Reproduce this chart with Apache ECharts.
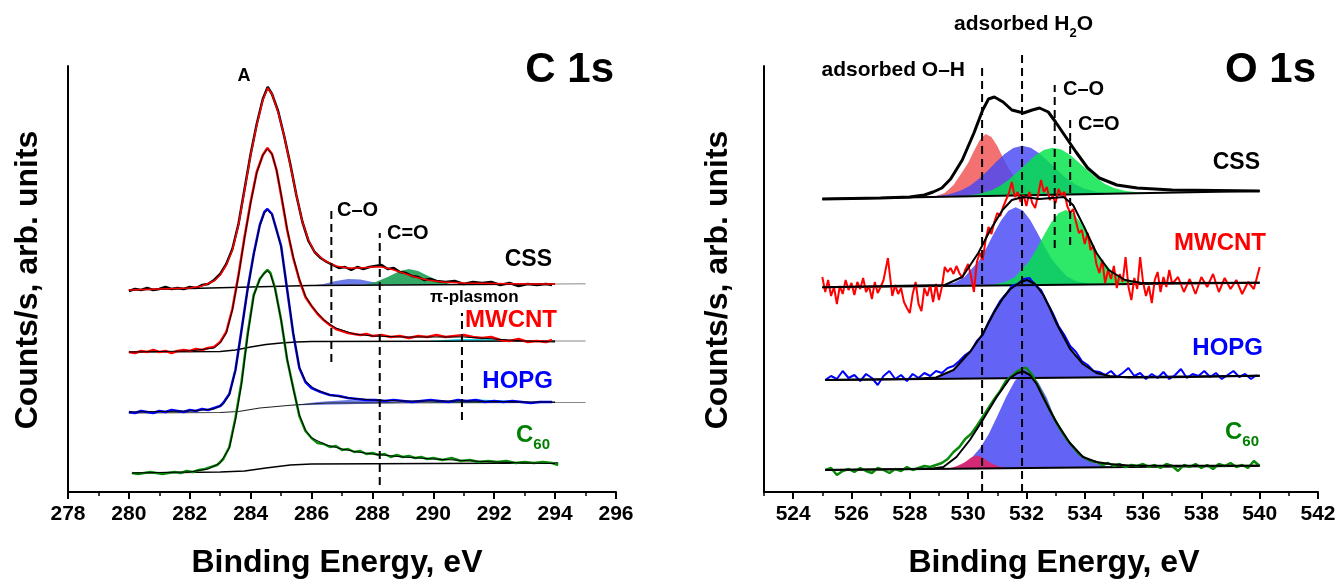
<!DOCTYPE html>
<html>
<head>
<meta charset="utf-8">
<script src="https://cdn.jsdelivr.net/npm/echarts@6/dist/echarts.min.js"></script>
<style>
  html, body { margin: 0; padding: 0; background: #fff; }
  #main { width: 1336px; height: 579px; }
</style>
</head>
<body>
<div id="main"></div>
<script>
// ---------- C 1s (left panel), counts in arb. units ----------
const c1sCssData = [[280.0,201],[280.2,203],[280.4,202],[280.6,204],[280.8,202],[281.0,203],[281.2,205],[281.4,203],[281.6,204],[281.8,203],[282.0,205],[282.2,204],[282.4,207],[282.6,208],[282.8,212],[283.0,218],[283.2,228],[283.4,243],[283.6,268],[283.8,303],[284.0,338],[284.2,368],[284.4,393],[284.56,405],[284.7,398],[284.9,381],[285.1,356],[285.3,328],[285.5,297],[285.7,270],[285.9,251],[286.1,240],[286.3,234],[286.5,230],[286.7,227],[286.9,224],[287.1,225],[287.3,222],[287.5,225],[287.7,223],[287.9,225],[288.1,226],[288.3,227],[288.5,223],[288.7,224],[288.9,220],[289.1,219],[289.3,216],[289.5,215],[289.7,212],[289.9,213],[290.1,211],[290.4,210],[290.7,211],[291.0,208],[291.3,210],[291.6,209],[291.9,210],[292.2,207],[292.5,209],[292.8,206],[293.1,208],[293.4,207],[293.7,208],[293.9,207]];
const c1sCssFit = [[280.0,202],[281,203],[282,204],[282.4,206],[282.8,211],[283.0,217],[283.2,227],[283.4,242],[283.6,267],[283.8,302],[284.0,337],[284.2,367],[284.4,392],[284.56,404],[284.7,398],[284.9,380],[285.1,356],[285.3,327],[285.5,297],[285.7,270],[285.9,252],[286.1,240],[286.4,232],[286.8,226],[287.2,224],[287.6,224],[288.0,225],[288.3,225],[288.6,223],[289.0,219],[289.4,215],[289.8,212],[290.3,210],[291.0,209],[292.0,208.5],[293.0,208],[294.0,208]];
const c1sCssBase = [[280,202],[286,206.5],[294,208]];
const c1sCssBaseExt = [[294,208],[295,208.2]];
const c1sCssBlue = [[286.0,206.5],[286.4,208],[286.8,211],[287.2,213],[287.6,212.5],[288.0,210],[288.4,207.5]];
const c1sCssGreen = [[287.7,207.2],[288.1,210],[288.5,215],[288.9,221],[289.2,223],[289.5,221],[289.9,215],[290.2,211],[290.6,207.8]];

const c1sMwcntData = [[280.0,140],[280.2,139],[280.4,141],[280.6,140],[280.8,142],[281.0,140],[281.2,141],[281.4,139],[281.6,141],[281.8,142],[282.0,141],[282.2,143],[282.4,142],[282.6,144],[282.8,145],[283.0,150],[283.2,160],[283.4,183],[283.6,217],[283.8,255],[284.0,290],[284.2,320],[284.4,337],[284.55,344],[284.7,338],[284.85,322],[285.0,297],[285.2,262],[285.4,234],[285.6,212],[285.8,195],[286.0,186],[286.2,178],[286.4,172],[286.6,167],[286.8,163],[287.0,161],[287.2,159],[287.4,158],[287.6,157],[287.8,158],[288.0,156],[288.3,157],[288.6,155],[288.9,156],[289.2,154],[289.5,156],[289.8,155],[290.1,157],[290.4,155],[290.7,156],[291.0,157],[291.3,155],[291.6,154],[291.9,155],[292.2,152],[292.5,151],[292.8,153],[293.1,150],[293.4,151],[293.7,150],[293.9,152]];
const c1sMwcntFit = [[280,140],[282,141],[282.8,144],[283.0,149],[283.2,159],[283.4,182],[283.6,216],[283.8,254],[284.0,289],[284.2,319],[284.4,337],[284.55,343],[284.7,338],[284.85,322],[285.0,298],[285.2,263],[285.4,235],[285.6,213],[285.8,196],[286.0,186],[286.4,172],[286.8,164],[287.4,158],[288,156],[289,155],[290,155],[291,155],[292,153],[293,151],[294,150]];
const c1sMwcntBase = [[280,140],[283,140.5],[283.5,142],[284,145],[284.5,147.5],[285,149],[285.5,150],[286,150.5],[294,151]];
const c1sMwcntBaseExt = [[294,151],[295,151]];
const c1sMwcntCyan = [[289.8,151],[290.8,153],[291.8,153],[292.6,151.2]];

const c1sHopgData = [[280.0,80],[280.2,79],[280.4,81],[280.6,80],[280.8,79],[281.0,81],[281.2,80],[281.4,82],[281.6,81],[281.8,80],[282.0,82],[282.2,81],[282.4,83],[282.6,82],[282.8,84],[283.0,86],[283.1,89],[283.3,98],[283.5,122],[283.7,162],[283.9,203],[284.1,238],[284.3,267],[284.45,280],[284.55,283],[284.7,278],[284.85,262],[285.0,246],[285.2,202],[285.4,158],[285.6,124],[285.8,110],[286.0,104],[286.3,100],[286.6,97],[286.9,96],[287.2,94],[287.5,93],[287.8,92],[288.1,92],[288.4,91],[288.7,92],[289.0,91],[289.3,90],[289.6,91],[289.9,92],[290.2,91],[290.5,90],[290.8,92],[291.1,91],[291.4,92],[291.7,90],[292.0,91],[292.3,90],[292.6,91],[292.9,90],[293.2,89],[293.5,90],[293.9,90]];
const c1sHopgFit = [[280,80],[282,81],[282.8,83],[283.1,88],[283.3,97],[283.5,121],[283.7,161],[283.9,202],[284.1,237],[284.3,266],[284.45,279],[284.55,282],[284.7,277],[284.85,262],[285.0,245],[285.2,203],[285.4,159],[285.6,125],[285.8,111],[286.1,103],[286.6,97],[287.2,94],[288,92],[289,91],[290,91],[291,91],[292,90.5],[293,90],[294,90]];
const c1sHopgBase = [[280,79],[283,79.5],[283.6,80.5],[284.3,84],[285.4,87],[286.5,89],[294,89.5]];
const c1sHopgBaseExt = [[294,89.5],[295,89.5]];
const c1sHopgBlue = [[285.3,86.5],[286.2,90],[287.2,92],[288.2,91],[289.0,89]];
const c1sHopgCyan = [[289.8,89.3],[290.6,91.5],[291.5,92.5],[292.4,91.5],[293.2,89.5]];

const c1sC60Data = [[280.1,19],[280.3,18],[280.5,19],[280.7,20],[280.9,19],[281.1,18],[281.3,19],[281.5,20],[281.7,19],[281.9,21],[282.1,20],[282.3,22],[282.5,23],[282.7,25],[282.9,27],[283.1,33],[283.3,45],[283.5,74],[283.7,110],[283.9,158],[284.1,197],[284.3,213],[284.45,219],[284.55,222],[284.65,219],[284.8,204],[285.0,172],[285.2,132],[285.4,104],[285.6,76],[285.8,61],[286.0,54],[286.2,49],[286.4,48],[286.6,45],[286.8,46],[287.0,42],[287.2,43],[287.4,40],[287.6,41],[287.8,38],[288.0,39],[288.2,37],[288.4,38],[288.6,35],[288.8,37],[289.0,35],[289.2,36],[289.4,34],[289.6,35],[289.8,33],[290.0,34],[290.3,32],[290.6,34],[290.9,31],[291.2,32],[291.5,30],[291.8,31],[292.1,30],[292.4,31],[292.7,29],[293.0,30],[293.3,29],[293.6,30],[293.9,29],[294.1,27]];
const c1sC60Fit = [[280.1,19],[282,20],[282.6,23],[283.0,29],[283.3,44],[283.5,72],[283.7,108],[283.9,156],[284.1,196],[284.3,213],[284.45,219],[284.55,221],[284.65,218],[284.8,203],[285.0,172],[285.2,133],[285.4,103],[285.6,77],[285.8,62],[286.0,54],[286.5,47],[287,43],[287.5,40],[288,38],[289,35],[290,33],[291,31.5],[292,30],[293,29],[294,28.5]];
const c1sC60Base = [[280.1,19],[283,20],[283.8,21],[284.5,24],[285.3,27],[286,28],[294.1,29]];

// dashed reference lines (energy, from count, to count)
const c1sDashCO = [[286.65,130],[286.65,285]];
const c1sDashCdO = [[288.24,7],[288.24,259]];
const c1sDashPlasmon = [[290.94,72],[290.94,179]];

// ---------- O 1s (right panel) ----------
const o1sCssEnv = [[525,293],[526,293.5],[527,294],[528,295],[528.5,297],[528.8,300],[529.1,304],[529.4,313],[529.8,332],[530.2,359],[530.5,382],[530.7,393],[530.9,395],[531.2,390],[531.5,382],[531.9,379],[532.2,382],[532.45,384],[532.75,380],[533.0,370],[533.35,355],[533.7,340],[534.1,324],[534.5,314],[535.1,307],[535.8,304],[537,302],[538.5,301.5],[540,301]];
const o1sCssBase = [[525,293],[540,301]];
const o1sCssRed = [[528.8,295],[529.2,299],[529.5,307],[529.8,320],[530.0,329],[530.2,341],[530.4,352],[530.6,358],[530.8,355],[531.0,346],[531.2,334],[531.4,323],[531.6,315],[531.9,306],[532.2,301],[532.6,297]];
const o1sCssBlue = [[528.5,294.9],[528.85,295.7],[529.35,297.8],[529.75,301.4],[530.05,306.1],[530.35,312.7],[530.65,320.8],[530.95,329.7],[531.25,337.9],[531.55,343.9],[531.85,346.2],[532.15,344.2],[532.45,338.6],[532.75,330.6],[533.05,322.1],[533.35,314.3],[533.65,308.0],[533.95,303.7],[534.35,300.5],[534.85,298.8],[535.3,298.5]];
const o1sCssGreen = [[529.6,295.5],[529.9,296.2],[530.4,298.3],[530.8,301.7],[531.1,306.2],[531.4,312.4],[531.7,320.2],[532.0,328.5],[532.3,336.4],[532.6,342.1],[532.9,344.2],[533.2,342.4],[533.5,337.0],[533.8,329.5],[534.1,321.5],[534.4,314.0],[534.7,308.1],[535.0,303.9],[535.4,300.9],[535.9,299.4],[536.3,299.0]];

const o1sMwcntData = [[525.0,215],[525.1,200],[525.2,212],[525.3,196],[525.4,205],[525.5,188],[525.6,206],[525.7,198],[525.8,212],[525.9,202],[526.0,209],[526.1,197],[526.2,210],[526.3,203],[526.4,214],[526.5,200],[526.6,206],[526.7,193],[526.8,210],[526.9,199],[527.0,205],[527.1,212],[527.25,234],[527.4,196],[527.5,207],[527.6,198],[527.7,204],[527.8,190],[527.9,184],[528.0,179],[528.1,198],[528.2,210],[528.3,188],[528.4,181],[528.5,204],[528.6,196],[528.7,207],[528.8,190],[528.9,208],[529.0,192],[529.1,205],[529.2,225],[529.3,220],[529.4,224],[529.5,218],[529.6,226],[529.7,219],[529.8,214],[529.9,222],[530.0,228],[530.1,216],[530.2,200],[530.3,230],[530.4,239],[530.5,232],[530.6,252],[530.7,265],[530.8,258],[530.9,270],[531.0,279],[531.1,276],[531.2,285],[531.3,292],[531.4,299],[531.5,310],[531.6,295],[531.7,300],[531.8,290],[531.9,297],[532.0,286],[532.1,300],[532.2,289],[532.3,284],[532.4,297],[532.5,312],[532.6,300],[532.7,305],[532.8,292],[532.9,296],[533.0,289],[533.1,303],[533.2,297],[533.3,300],[533.4,286],[533.5,279],[533.6,283],[533.7,270],[533.8,259],[533.9,262],[534.0,248],[534.1,259],[534.2,242],[534.3,246],[534.4,228],[534.5,219],[534.6,232],[534.7,209],[534.8,222],[534.9,213],[535.0,226],[535.1,204],[535.2,218],[535.3,210],[535.4,235],[535.5,205],[535.6,192],[535.7,214],[535.8,203],[535.9,235],[536.0,210],[536.1,196],[536.2,206],[536.3,189],[536.4,212],[536.5,220],[536.6,200],[536.7,215],[536.8,205],[536.9,222],[537.0,208],[537.2,215],[537.4,200],[537.6,213],[537.8,198],[538.0,215],[538.2,205],[538.4,218],[538.6,200],[538.8,214],[539.0,203],[539.2,212],[539.4,198],[539.6,210],[539.8,203],[540.0,225]];
const o1sMwcntEnv = [[525,204.7],[529.2,207],[529.8,215],[530.35,239],[530.76,262],[531.18,282],[531.5,292],[531.88,295],[532.2,294],[532.44,293],[532.86,294],[533.28,295],[533.6,287],[533.98,265],[534.4,239],[534.82,222],[535.38,212],[535.94,209],[540,209.3]];
const o1sMwcntBase = [[525,204.7],[540,209.3]];
const o1sMwcntBlue = [[528.8,205.9],[529.13,206.9],[529.53,209.3],[529.88,215.0],[530.13,223.4],[530.38,231.4],[530.63,244.3],[530.88,258.4],[531.13,271.6],[531.38,281.3],[531.63,284.7],[531.88,281.4],[532.13,271.9],[532.38,258.9],[532.63,244.9],[532.88,232.2],[533.13,223.7],[533.38,215.8],[533.73,210.6],[534.13,208.4],[534.5,207.6]];
const o1sMwcntGreen = [[530.5,206.4],[530.85,207.4],[531.25,209.7],[531.6,214.8],[531.85,222.9],[532.1,231.1],[532.35,243.2],[532.6,256.7],[532.85,269.4],[533.1,278.7],[533.35,282.0],[533.6,278.8],[533.85,269.7],[534.1,257.5],[534.35,243.8],[534.6,231.7],[534.85,223.5],[535.1,216.0],[535.45,211.0],[535.85,208.9],[536.2,208.1]];

const o1sHopgData = [[525.1,112],[525.3,116],[525.5,113],[525.7,121],[525.9,114],[526.1,117],[526.3,111],[526.5,118],[526.7,114],[526.9,107],[527.1,116],[527.3,121],[527.5,113],[527.7,117],[527.9,111],[528.1,118],[528.3,114],[528.5,119],[528.7,116],[528.9,121],[529.1,119],[529.3,124],[529.5,126],[529.7,131],[529.9,137],[530.1,141],[530.3,151],[530.5,157],[530.7,170],[530.9,181],[531.1,191],[531.3,198],[531.5,206],[531.7,208],[531.9,213],[532.1,214],[532.3,207],[532.5,202],[532.7,190],[532.9,179],[533.1,166],[533.3,157],[533.5,146],[533.7,140],[533.9,131],[534.1,127],[534.3,121],[534.5,120],[534.7,117],[534.9,121],[535.1,115],[535.3,119],[535.5,124],[535.7,116],[535.9,119],[536.1,113],[536.3,118],[536.5,114],[536.7,120],[536.9,113],[537.1,117],[537.3,123],[537.5,114],[537.7,118],[537.9,116],[538.1,121],[538.3,115],[538.5,119],[538.7,113],[538.9,117],[539.1,121],[539.3,115],[539.5,118],[539.7,113],[539.9,117]];
const o1sHopgEnv = [[525.1,112],[528,113],[528.9,114.5],[529.5,122],[530.06,140],[530.5,158],[530.9,180],[531.2,194],[531.45,203],[531.8,210],[532.02,212],[532.3,208],[532.58,197],[532.8,184],[533.04,168],[533.5,143],[533.94,128],[534.4,119],[534.86,116],[535.5,114.5],[537,114.8],[540,116.3]];
const o1sHopgBase = [[525.1,112],[540,116.3]];
const o1sHopgBlue = [[527.8,112.8],[528.9,114.5],[529.5,122],[530.06,140],[530.5,158],[530.9,180],[531.2,194],[531.45,203],[531.8,210],[532.02,212],[532.3,208],[532.58,197],[532.8,184],[533.04,168],[533.5,143],[533.94,128],[534.4,119],[534.86,115.5],[535.6,114.2]];

const o1sC60Data = [[525.1,22],[525.3,24],[525.5,17],[525.7,21],[525.9,23],[526.1,20],[526.3,24],[526.5,21],[526.7,19],[526.9,24],[527.1,22],[527.3,19],[527.5,23],[527.7,21],[527.9,25],[528.1,22],[528.3,24],[528.5,26],[528.7,25],[528.9,27],[529.1,29],[529.3,33],[529.5,40],[529.7,45],[529.9,53],[530.1,58],[530.3,66],[530.5,75],[530.7,84],[530.9,93],[531.1,101],[531.3,111],[531.5,116],[531.7,121],[531.9,124],[532.0,124],[532.2,117],[532.4,106],[532.6,94],[532.8,82],[533.0,71],[533.2,61],[533.4,52],[533.6,45],[533.8,38],[534.0,34],[534.2,31],[534.4,30],[534.6,27],[534.8,29],[535.0,26],[535.2,28],[535.4,25],[535.6,27],[535.8,26],[536.0,28],[536.2,25],[536.4,27],[536.6,24],[536.8,28],[537.0,26],[537.2,21],[537.4,27],[537.6,25],[537.8,28],[538.0,24],[538.2,27],[538.4,23],[538.6,28],[538.8,26],[539.0,29],[539.2,25],[539.4,27],[539.6,24],[539.8,31],[540.0,26]];
const o1sC60Env = [[525.1,22],[528,23],[528.8,23.5],[529.15,25],[529.6,35],[530.06,52],[530.5,72],[530.98,95],[531.44,114],[531.7,119],[531.9,120.5],[532.12,117],[532.35,108],[532.57,95],[532.8,82],[533.04,69],[533.49,49],[533.94,35],[534.4,30],[534.86,28],[535.5,26.5],[540,26.3]];
const o1sC60Base = [[525.1,22],[540,26.3]];
const o1sC60Blue = [[529.4,23.3],[529.8,27.4],[530.1,33.5],[530.4,43.6],[530.7,57.6],[531.0,75.7],[531.3,94.8],[531.6,110.9],[531.9,119],[532.1,119],[532.4,110.1],[532.7,94.2],[533.0,72],[533.3,57.4],[533.6,44.5],[533.9,35.6],[534.2,30.6],[534.6,26.8],[535.0,24.9]];
const o1sC60Red = [[529.3,23.3],[529.6,25.7],[529.9,30.1],[530.1,34.4],[530.3,36.5],[530.5,34.5],[530.7,30.3],[531.0,26.1],[531.3,23.9]];

const o1sDashOH = [[530.48,0],[530.48,424]];
const o1sDashH2O = [[531.85,0],[531.85,439]];
const o1sDashCO = [[532.97,244],[532.97,407]];
const o1sDashCdO = [[533.5,247],[533.5,374]];

// tick positions of the O 1s energy axis
const o1sMajorTicks = [524, 526, 528, 530, 532, 534, 536, 538, 540, 542];
const o1sMinorTicks = [523, 525, 527, 529, 531, 533, 535, 537, 539, 541];

// ---------- chart ----------
const FONT = '"Liberation Sans", Arial, sans-serif';
const chart = echarts.init(document.getElementById('main'));

function line(ax, data, color, width, z, extra) {
  return Object.assign({
    type: 'line', xAxisIndex: ax, yAxisIndex: ax, data: data,
    symbol: 'none', showSymbol: false, silent: true, animation: false, z: z,
    lineStyle: { color: color, width: width }
  }, extra || {});
}
function dash(ax, data) {
  return line(ax, data, '#000', 2, 6, { clip: false, lineStyle: { color: '#000', width: 2, type: [8, 5] } });
}
function fill(ax, pts, color) {
  return {
    type: 'custom', xAxisIndex: ax, yAxisIndex: ax, data: pts, silent: true, z: 1, animation: false,
    renderItem: function (params, api) {
      if (params.dataIndex !== 0) return null;
      return { type: 'polygon', shape: { points: pts.map(function (p) { return api.coord(p); }) }, style: { fill: color } };
    }
  };
}

// text helpers (pixel placement of annotations)
const meas = document.createElement('canvas').getContext('2d');
function tw(str, size) { meas.font = 'bold ' + size + 'px "Liberation Sans"'; return meas.measureText(str).width; }
function txt(x, y, str, size, color, align, rot) {
  return { type: 'text', x: x, y: y, rotation: rot || 0, silent: true, z: 100,
    style: { text: str, fill: color || '#000', font: 'bold ' + size + 'px ' + FONT, align: align || 'left', verticalAlign: 'middle' } };
}
function sub(xRight, y, main, s, size, sSize, color) {
  const w = tw(s, sSize);
  return [txt(xRight - w, y, main, size, color, 'right'), txt(xRight - w, y + size * 0.42, s, sSize, color, 'left')];
}

const rGreen = 'rgba(0,228,70,0.82)';
const rBlue = 'rgba(72,72,245,0.82)';
const rRed = 'rgba(240,78,78,0.8)';

const h2oParts = (function () {
  const x0 = 954, y = 24, f = 21, fs = 13;
  const w1 = tw('adsorbed H', f), w2 = tw('2', fs);
  return [txt(x0, y, 'adsorbed H', f, '#000'), txt(x0 + w1, y + 9, '2', fs, '#000'), txt(x0 + w1 + w2, y, 'O', f, '#000')];
})();

const axisLabelStyle = { color: '#000', fontSize: 21, fontWeight: 'bold', margin: 12, fontFamily: FONT };

const option = {
  animation: false,
  backgroundColor: '#fff',
  textStyle: { fontFamily: FONT },
  grid: [
    { left: 68, top: 66, width: 548, height: 426, outerBoundsMode: 'none' },
    { left: 764, top: 66, width: 554, height: 426, outerBoundsMode: 'none' }
  ],
  xAxis: [
    { gridIndex: 0, type: 'value', position: 'bottom', min: 278, max: 296, interval: 2,
      axisLine: { lineStyle: { color: '#000', width: 2 } },
      axisTick: { length: 7, lineStyle: { color: '#000', width: 2 } },
      minorTick: { show: true, splitNumber: 2, length: 4, lineStyle: { color: '#000', width: 1.5 } },
      splitLine: { show: false },
      axisLabel: axisLabelStyle },
    { gridIndex: 1, type: 'value', position: 'bottom', min: 523, max: 542, interval: 1,
      axisLine: { lineStyle: { color: '#000', width: 2 } },
      axisTick: { length: 7, customValues: o1sMajorTicks, lineStyle: { color: '#000', width: 2 } },
      splitLine: { show: false },
      axisLabel: Object.assign({ customValues: o1sMajorTicks,
        formatter: function (v) { return v % 2 === 0 ? String(v) : ''; } }, axisLabelStyle) },
    { gridIndex: 1, type: 'value', position: 'bottom', offset: 0, min: 523, max: 542, interval: 1,
      axisLine: { show: false },
      axisTick: { length: 4, customValues: o1sMinorTicks, lineStyle: { color: '#000', width: 1.5 } },
      splitLine: { show: false },
      axisLabel: { show: false } }
  ],
  yAxis: [0, 1].map(function (i) {
    return { gridIndex: i, type: 'value', min: 0, max: 426,
      axisLine: { show: true, lineStyle: { color: '#000', width: 2 } },
      axisTick: { show: false }, axisLabel: { show: false }, splitLine: { show: false } };
  }),
  series: [
    // C 1s
    fill(0, c1sCssBlue, 'rgba(70,90,225,0.8)'),
    fill(0, c1sCssGreen, 'rgba(30,160,85,0.9)'),
    fill(0, c1sMwcntCyan, 'rgba(0,220,235,0.9)'),
    fill(0, c1sHopgBlue, 'rgba(70,90,225,0.8)'),
    fill(0, c1sHopgCyan, 'rgba(0,220,235,0.9)'),
    line(0, c1sCssBase, '#000', 1.5, 2),
    line(0, c1sCssBaseExt, '#888', 1, 2),
    line(0, c1sMwcntBase, '#000', 1.5, 2),
    line(0, c1sMwcntBaseExt, '#888', 1, 2),
    line(0, c1sHopgBase, '#222', 1.2, 2),
    line(0, c1sHopgBaseExt, '#888', 1, 2),
    line(0, c1sC60Base, '#000', 1.5, 2),
    line(0, c1sCssData, '#000', 2.5, 3),
    line(0, c1sCssFit, '#ff0000', 1.5, 4),
    line(0, c1sMwcntData, '#ff0000', 2.5, 3),
    line(0, c1sMwcntFit, '#000', 1, 4),
    line(0, c1sHopgData, '#0000ff', 2.5, 3),
    line(0, c1sHopgFit, '#000', 1, 4),
    line(0, c1sC60Data, '#0a8a0a', 2.5, 3),
    line(0, c1sC60Fit, '#000', 1, 4),
    dash(0, c1sDashCO),
    dash(0, c1sDashCdO),
    dash(0, c1sDashPlasmon),
    // O 1s
    fill(1, o1sCssRed, rRed),
    fill(1, o1sCssBlue, rBlue),
    fill(1, o1sCssGreen, rGreen),
    fill(1, o1sMwcntBlue, rBlue),
    fill(1, o1sMwcntGreen, rGreen),
    fill(1, o1sHopgBlue, 'rgba(72,72,245,0.85)'),
    fill(1, o1sC60Blue, 'rgba(72,72,245,0.85)'),
    fill(1, o1sC60Red, 'rgba(230,30,95,0.85)'),
    line(1, o1sCssBase, '#000', 2, 2),
    line(1, o1sMwcntBase, '#000', 2, 2),
    line(1, o1sHopgBase, '#000', 2, 2),
    line(1, o1sC60Base, '#000', 2, 2),
    line(1, o1sMwcntData, '#ff0000', 2, 3),
    line(1, o1sHopgData, '#0000ff', 2, 3),
    line(1, o1sC60Data, '#0a8a0a', 2.5, 3),
    line(1, o1sCssEnv, '#000', 3, 4),
    line(1, o1sMwcntEnv, '#000', 2, 4),
    line(1, o1sHopgEnv, '#000', 2, 4),
    line(1, o1sC60Env, '#000', 2, 4),
    dash(1, o1sDashOH),
    dash(1, o1sDashH2O),
    dash(1, o1sDashCO),
    dash(1, o1sDashCdO)
  ],
  graphic: [
    txt(614, 70, 'C 1s', 42, '#000', 'right'),
    txt(1316, 70, 'O 1s', 42, '#000', 'right'),
    txt(28, 280, 'Counts/s, arb. units', 32, '#000', 'center', Math.PI / 2),
    txt(718, 280, 'Counts/s, arb. units', 32, '#000', 'center', Math.PI / 2),
    txt(337, 563, 'Binding Energy, eV', 32, '#000', 'center'),
    txt(1054, 563, 'Binding Energy, eV', 32, '#000', 'center'),
    // C 1s annotations
    txt(244, 76, 'A', 18, '#000', 'center'),
    txt(337, 210, 'C\u2013O', 20, '#000', 'left'),
    txt(387, 233, 'C=O', 20, '#000', 'left'),
    txt(430, 297, '\u03c0-plasmon', 17, '#000', 'left'),
    txt(552, 260, 'CSS', 23, '#000', 'right'),
    txt(557, 320, 'MWCNT', 24, '#ff0000', 'right'),
    txt(553, 381, 'HOPG', 24, '#0000ff', 'right')
  ].concat(sub(550, 435, 'C', '60', 24, 15, '#008000'), [
    // O 1s annotations
    txt(965, 70, 'adsorbed O\u2013H', 21, '#000', 'right'),
    txt(1063, 89, 'C\u2013O', 20, '#000', 'left'),
    txt(1078, 124, 'C=O', 20, '#000', 'left'),
    txt(1260, 163, 'CSS', 23, '#000', 'right'),
    txt(1266, 243, 'MWCNT', 24, '#ff0000', 'right'),
    txt(1263, 348, 'HOPG', 24, '#0000ff', 'right')
  ], sub(1259, 432, 'C', '60', 24, 15, '#008000'), h2oParts)
};

chart.setOption(option);
</script>
</body>
</html>
